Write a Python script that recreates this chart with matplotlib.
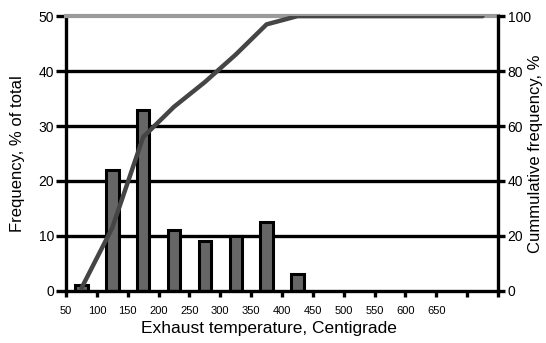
import matplotlib.pyplot as plt
import numpy as np

plt.rcParams['font.family'] = ['Liberation Sans', 'DejaVu Sans']

# bin centres (temperature, C) and read values
temps = [75, 125, 175, 225, 275, 325, 375, 425, 475, 525, 575, 625, 675, 725]
freq = [1, 22, 33, 11, 9, 10, 12.5, 3, 0, 0, 0, 0, 0, 0]
cumul = [1, 23, 56, 67, 76, 86, 97, 100, 100, 100, 100, 100, 100, 100]
xticks = [50, 100, 150, 200, 250, 300, 350, 400, 450, 500, 550, 600, 650, 700, 750]
xlabels = ["50", "100", "150", "200", "250", "300", "350", "400", "450", "500",
           "550", "600", "650", "", ""]

fig = plt.figure(figsize=(5.46, 3.43), dpi=100)
ax = fig.add_axes([0.121, 0.152, 0.791, 0.801])

# gridlines
for g in [10, 20, 30, 40]:
    ax.axhline(g, color="black", lw=2.4, zorder=1)

ax.bar(temps[:8], freq[:8], width=20, color="#666666", edgecolor="black",
       linewidth=2.2, zorder=2)

ax.set_xlim(50, 750)
ax.set_ylim(0, 50)
ax.set_xticks(xticks)
ax.set_xticklabels(xlabels, fontsize=8)
ax.set_yticks([0, 10, 20, 30, 40, 50])
ax.tick_params(axis="y", labelsize=10, direction="out", length=7.5, width=2.4, pad=1)
ax.tick_params(axis="x", direction="out", length=4, width=2.4, pad=7)
for s in ["left", "bottom"]:
    ax.spines[s].set_linewidth(2.4)
ax.spines["right"].set_visible(False)
ax.spines["top"].set_color("#9a9a9a")
ax.spines["top"].set_linewidth(3)
ax.set_ylabel("Frequency, % of total", fontsize=12)
ax.yaxis.set_label_coords(-0.095, 0.5)
ax.set_xlabel("Exhaust temperature, Centigrade", fontsize=12.5)
ax.xaxis.set_label_coords(0.47, -0.11)

ax2 = ax.twinx()
ax2.plot(temps, cumul, color="#454545", lw=3.2, solid_capstyle="round", zorder=5)
ax2.set_ylim(0, 100)
ax2.set_yticks([0, 20, 40, 60, 80, 100])
ax2.tick_params(axis="y", labelsize=10, direction="out", length=5, width=2.4, pad=2)
ax2.spines["right"].set_linewidth(2.4)
for s in ["left", "top", "bottom"]:
    ax2.spines[s].set_visible(False)
ax2.set_ylabel("Cummulative frequency, %", fontsize=12)
ax2.yaxis.set_label_coords(1.07, 0.5)

fig.savefig("out.png", dpi=100)
